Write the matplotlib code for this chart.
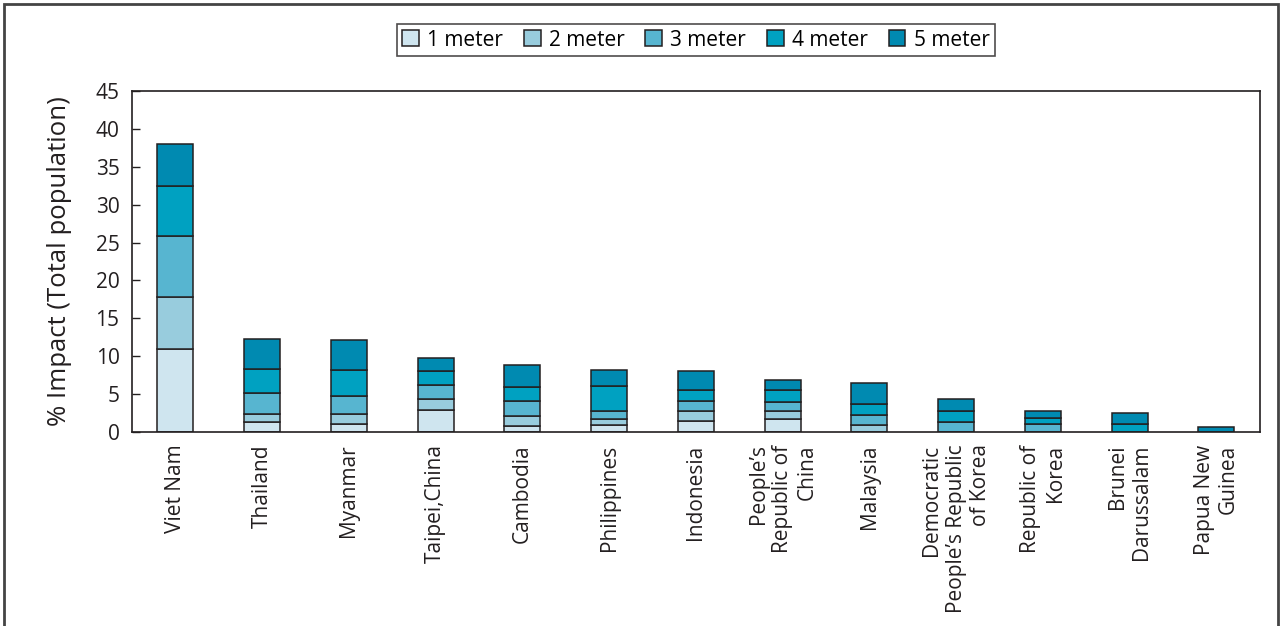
import numpy as np
import matplotlib.pyplot as plt
from matplotlib.patches import Rectangle

plt.rcParams['font.family'] = ['Open Sans', 'DejaVu Sans']

countries = ['Viet Nam', 'Thailand', 'Myanmar', 'Taipei,China', 'Cambodia',
             'Philippines', 'Indonesia', 'People\u2019s\nRepublic of\nChina',
             'Malaysia', 'Democratic\nPeople\u2019s Republic\nof Korea',
             'Republic of\nKorea', 'Brunei\nDarussalam', 'Papua New\nGuinea']

# % of total population impacted, increment per sea-level rise step
m1 = [10.9, 1.3, 1.1, 2.9, 0.8, 0.9, 1.4, 1.7, 0.0, 0.0, 0.0, 0.0, 0.0]
m2 = [6.9, 1.1, 1.3, 1.5, 1.3, 0.8, 1.4, 1.0, 0.9, 0.0, 0.0, 0.0, 0.0]
m3 = [8.0, 2.7, 2.3, 1.8, 2.0, 1.1, 1.3, 1.3, 1.4, 1.3, 1.0, 0.0, 0.0]
m4 = [6.7, 3.2, 3.5, 1.8, 1.8, 3.2, 1.4, 1.5, 1.4, 1.5, 0.8, 1.1, 0.0]
m5 = [5.5, 4.0, 4.0, 1.7, 2.9, 2.2, 2.5, 1.4, 2.7, 1.5, 1.0, 1.4, 0.6]

levels = ['1 meter', '2 meter', '3 meter', '4 meter', '5 meter']
colors = ['#cfe5ef', '#98ccdd', '#57b5d0', '#00a1c1', '#008ab1']

fig = plt.figure(figsize=(12.81, 6.26), dpi=100)
ax = fig.add_axes([0.103, 0.310, 0.8805, 0.5446])

x = np.arange(len(countries))
bottom = np.zeros(len(countries))
for vals, lab, col in zip([m1, m2, m3, m4, m5], levels, colors):
    vals = np.array(vals)
    ax.bar(x, vals, 0.415, bottom=bottom, color=col, edgecolor='#231f20',
           linewidth=1.1, label=lab)
    bottom += vals

ax.set_xlim(-0.5, len(countries) - 0.5)
ax.set_ylim(0, 45)
ax.set_yticks(range(0, 46, 5))
ax.tick_params(axis='y', direction='in', length=6, width=1, labelsize=15,
               pad=9, colors='#231f20')
ax.tick_params(axis='x', length=0, pad=9)
ax.set_xticks(x)
ax.set_xticklabels(countries, rotation=90, fontsize=15, va='top', ha='center',
                   multialignment='right', color='#231f20')
for s in ax.spines.values():
    s.set_color('#231f20')
    s.set_linewidth(1.2)
ax.set_ylabel('% Impact (Total population)', fontsize=18.5, labelpad=17,
              color='#231f20')

leg = ax.legend(loc='lower center', bbox_to_anchor=(0.5, 1.103), ncol=5,
                fontsize=15, frameon=True, fancybox=False, edgecolor='#231f20',
                handlelength=0.8, handleheight=0.8, handletextpad=0.4,
                columnspacing=1.0, borderpad=0.25, borderaxespad=0)
leg.get_frame().set_linewidth(1.2)

# outer border of the figure
fig.patches.append(Rectangle((0.003, -0.05), 0.995, 1.043, transform=fig.transFigure,
                             fill=False, edgecolor='#444444', linewidth=2))

fig.savefig('out.png', dpi=100)
